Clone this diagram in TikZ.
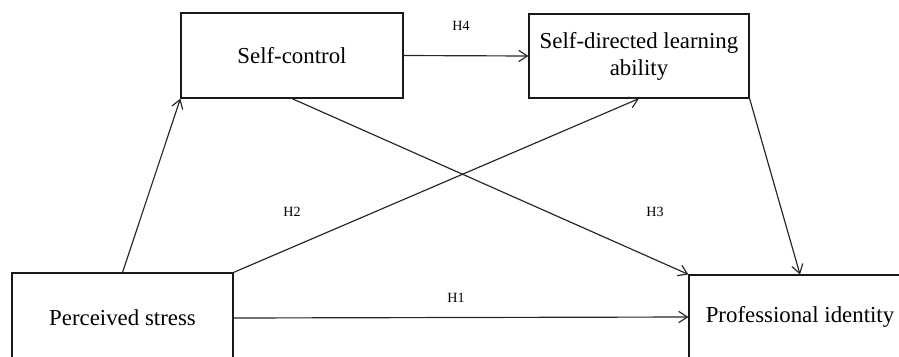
\documentclass[tikz,border=0pt]{standalone}
\usepackage{fontspec}
\setmainfont{Liberation Serif}
\usetikzlibrary{arrows.meta,positioning}
\tikzset{
  box/.style={
    draw=black!90, line width=1pt, align=center, inner sep=2pt,
    font=\fontsize{19.5}{23}\selectfont
  },
  flow/.style={draw=black!85, line width=1pt},
  arw/.style={flow, -{Straight Barb[length=2.6mm,width=3.4mm,line width=1pt]}},
  hyp/.style={font=\fontsize{12}{14}\selectfont, inner sep=0pt}
}

\begin{document}
\begin{tikzpicture}[x=0.03cm, y=-0.03cm]
    \useasboundingbox (0,0) rectangle (899,356);
    \clip (0,0) rectangle (899,356);

    % Mediators along the top.
    \node[box, minimum width=6.66cm, minimum height=2.55cm] (sc) at (292,55.5)
      {Self-control};
    \node[box, minimum width=6.6cm, minimum height=2.52cm] (sdl) at (639,56)
      {Self-directed learning\\ability};

    % Predictor and outcome, cut by the lower edge.
    \node[box, minimum width=6.63cm, minimum height=2.7cm] (ps) at (122.5,318)
      {Perceived stress};
    \node[box, minimum width=6.66cm, minimum height=2.52cm] (pi) at (800,317)
      {Professional identity};

    % Paths.
    \draw[arw] (ps.north) -- (sc.south west);
    \draw[arw] (ps.north east) -- (sdl.south);
    \draw[arw] (sc.south) -- (pi.north west);
    \draw[arw] (sdl.south east) -- (pi.north);
    \draw[arw] (sc.east) -- (sdl.west);
    \draw[arw] (ps.east) -- (pi.west);

    % Hypothesis labels.
    \node[hyp] (h4) at (461,26) {H4};
    \node[hyp] (h2) at (292,212) {H2};
    \node[hyp] (h3) at (655,212) {H3};
    \node[hyp] (h1) at (456,298) {H1};
  \end{tikzpicture}
\end{document}
